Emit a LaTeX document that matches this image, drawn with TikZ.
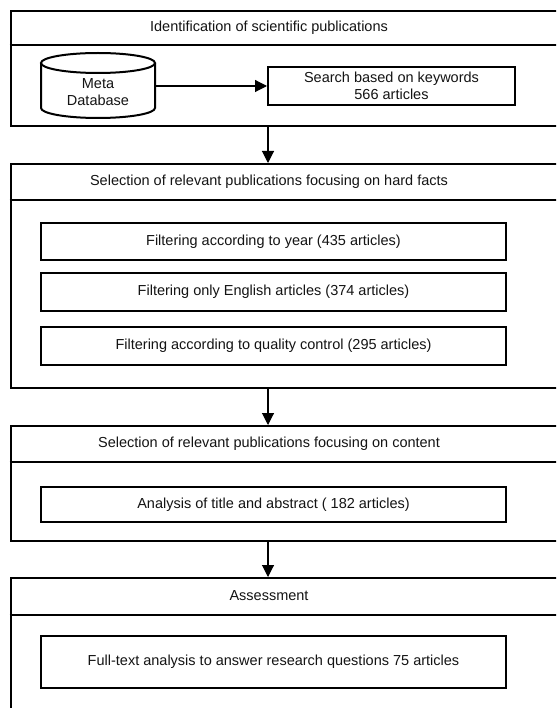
\documentclass[tikz,border=0pt]{standalone}
\usepackage{fontspec}
\setmainfont{Liberation Sans}
\usetikzlibrary{arrows.meta}
\tikzset{
  boxline/.style={draw=black, line width=2pt},
  outerbox/.style={boxline, rectangle, inner sep=0pt, anchor=north west, minimum width=600pt},
  innerbox/.style={boxline, rectangle, inner sep=0pt, minimum width=465pt, align=center, text=black!92},
  lbl/.style={inner sep=0pt, align=center, text=black!92},
  arr/.style={draw=black, line width=1.1pt, -{Triangle[length=12pt,width=12pt]}}
}
\begin{document}
\begin{tikzpicture}[x=1pt,y=-1pt, every node/.style={font=\fontsize{14.5}{17}\selectfont}]
\useasboundingbox (0,0) rectangle (556,708);
\clip (0,0) rectangle (556,708);
\fill[white] (0,0) rectangle (556,708);
\coordinate (ax) at (268,0);

% Box 1
\node[outerbox, minimum height=115pt] (b1) at (9.5,10) {};
\draw[boxline] (9.5,45) -- (610,45);
\node[lbl] (t1) at (269,27.5) {Identification of scientific publications};
% cylinder
\draw[boxline, fill=white] (41,63) -- (41,108) arc[start angle=180, end angle=0, x radius=57, y radius=10] -- (155,63);
\draw[boxline] (98,63) ellipse[x radius=57, y radius=10];
\node[lbl, minimum width=114pt] (db) at (98,92.5) {Meta\\Database};
\node[boxline, rectangle, inner sep=0pt, minimum width=247pt, minimum height=38pt, align=center, text=black!92] (search) at (391.5,86) {Search based on keywords\\566 articles};
\draw[arr] (db.east |- search.west) -- (search.west);

% Box 2
\node[outerbox, minimum height=224pt] (b2) at (9.5,163) {};
\draw[boxline] (9.5,200) -- (610,200);
\node[lbl] (t2) at (269,181.5) {Selection of relevant publications focusing on hard facts};
\node[innerbox, minimum height=37pt] (f1) at (273.5,241.5) {Filtering according to year (435 articles)};
\node[innerbox, minimum height=38pt] (f2) at (273.5,292) {Filtering only English articles (374 articles)};
\node[innerbox, minimum height=38pt] (f3) at (273.5,346) {Filtering according to quality control (295 articles)};

% Box 3
\node[outerbox, minimum height=115pt] (b3) at (9.5,425) {};
\draw[boxline] (9.5,462) -- (610,462);
\node[lbl] (t3) at (269,443.5) {Selection of relevant publications focusing on content};
\node[innerbox, minimum height=35pt] (f4) at (273.5,504.5) {Analysis of title and abstract ( 182 articles)};

% Box 4
\node[outerbox, minimum height=180pt] (b4) at (9.5,577) {};
\draw[boxline] (9.5,615) -- (610,615);
\node[lbl] (t4) at (269,596) {Assessment};
\node[innerbox, minimum height=52pt] (f5) at (273.5,662) {Full-text analysis to answer research questions 75 articles};

% connectors
\draw[arr] (b1.south -| ax) -- (b2.north -| ax);
\draw[arr] (b2.south -| ax) -- (b3.north -| ax);
\draw[arr] (b3.south -| ax) -- (b4.north -| ax);
\end{tikzpicture}
\end{document}
